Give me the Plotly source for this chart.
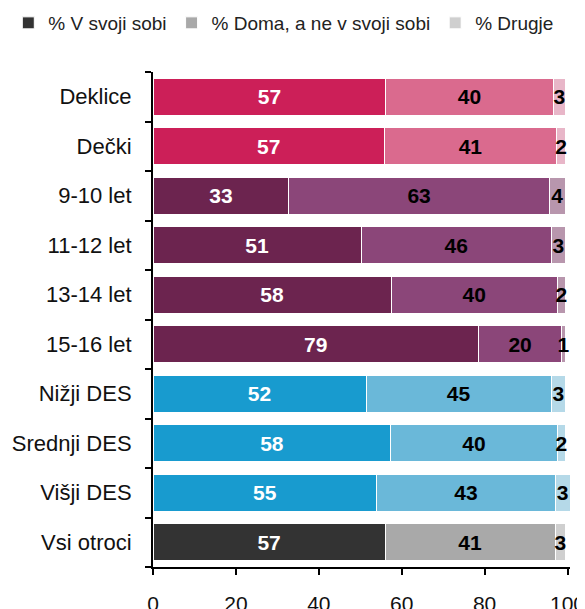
import plotly.graph_objects as go

# categories listed bottom-to-top (first = "Vsi otroci")
categories = ["Vsi otroci", "Višji DES", "Srednji DES", "Nižji DES",
              "15-16 let", "13-14 let", "11-12 let", "9-10 let", "Dečki", "Deklice"]

v_svoji = [56.0, 54.0, 57.4, 51.4, 78.5, 57.5, 50.2, 32.8, 55.8, 56.2]
v_doma = [41.0, 43.0, 40.1, 44.7, 20.1, 40.0, 45.9, 62.8, 41.6, 40.3]
v_drugje = [2.5, 3.6, 2.0, 3.4, 0.9, 2.0, 3.4, 3.9, 2.1, 3.0]

lab_svoji = ["57", "55", "58", "52", "79", "58", "51", "33", "57", "57"]
lab_doma = ["41", "43", "40", "45", "20", "40", "46", "63", "41", "40"]
lab_drugje = ["3", "3", "2", "3", "1", "2", "3", "4", "2", "3"]

series_names = ["% V svoji sobi", "% Doma, a ne v svoji sobi", "% Drugje"]

# colour groups: total, SES, age, gender
grp = ["tot", "des", "des", "des", "age", "age", "age", "age", "sex", "sex"]
pal = {
    "tot": ["#333333", "#A9A9A9", "#CFCFCF"],
    "des": ["#189BCF", "#6AB8D9", "#B5D9E8"],
    "age": ["#6C244F", "#8B4679", "#B896AD"],
    "sex": ["#CC1F58", "#DA6A8E", "#E8B6C8"],
}

font_fam = "Liberation Sans, Arial, sans-serif"
fig = go.Figure()
vals = [v_svoji, v_doma, v_drugje]
labs = [lab_svoji, lab_doma, lab_drugje]
tcol = ["white", "black", "black"]
for i in range(3):
    fig.add_trace(go.Bar(
        y=categories, x=vals[i], orientation="h", name=series_names[i],
        marker=dict(color=[pal[g][i] for g in grp], line=dict(color="white", width=1)),
        text=labs[i], textposition="inside", insidetextanchor="middle",
        textangle=0, cliponaxis=False, constraintext="none",
        textfont=dict(family=font_fam, size=21, color=tcol[i], weight="bold"),
        hoverinfo="skip",
    ))

# page has an 8px body margin: figure occupies (8..585, 8..609)
fig.update_layout(
    width=577, height=601,
    barmode="stack", bargap=0.26,
    paper_bgcolor="white", plot_bgcolor="white",
    margin=dict(l=145, r=15, t=64, b=42, autoexpand=False),
    font=dict(family=font_fam, size=20, color="#111111"),
    showlegend=True,
    legend=dict(orientation="h", xref="paper", yref="paper",
                x=-0.347, y=1.099, xanchor="left", yanchor="middle",
                font=dict(size=19, color="#222222"), traceorder="normal",
                itemwidth=30, bgcolor="rgba(0,0,0,0)"),
    xaxis=dict(range=[0, 100.6], tickvals=[0, 20, 40, 60, 80, 100], automargin=False,
               showgrid=False, zeroline=False, showline=True, linecolor="black",
               linewidth=2, ticks="outside", ticklen=6, tickwidth=2, tickcolor="black",
               ticklabelstandoff=11, ticklabeloverflow="allow", tickfont=dict(size=21)),
    yaxis=dict(categoryorder="array", categoryarray=categories, automargin=False,
               showgrid=False, zeroline=False, showline=True, linecolor="black",
               linewidth=2, ticks="outside", ticklen=6, tickwidth=2, tickcolor="black",
               tickson="boundaries", ticklabelstandoff=15, tickfont=dict(size=22)),
)

fig.write_html("out.html")
